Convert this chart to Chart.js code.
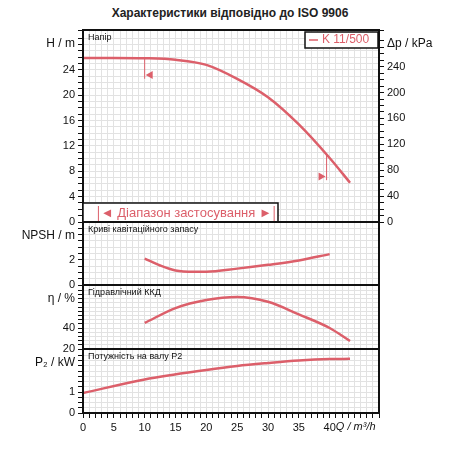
<!DOCTYPE html><html><head><meta charset="utf-8">
<script src="https://cdn.jsdelivr.net/npm/chart.js@4"></script>
<style>body{margin:0;background:#fff}#w{position:relative;width:460px;height:460px;font-family:Arial,"Liberation Sans",sans-serif}
canvas{position:absolute;left:0;top:0}#t{position:absolute;top:6px;left:0;width:460px;text-align:center;font:bold 12px "Liberation Sans",Arial;color:#222}</style></head><body>
<div id="w"><div id="t">Характеристики відповідно до ISO 9906</div>
<canvas id="c1" width="460" height="460"></canvas><canvas id="c2" width="460" height="460"></canvas>
<canvas id="c3" width="460" height="460"></canvas><canvas id="c4" width="460" height="460"></canvas></div>
<script>
const qHead=[0,5,10,15,20,25,30,35,40,43.3];
const head=[25.9,25.9,25.85,25.6,24.8,22.6,19.7,15.4,10.1,6.2];
const qNpsh=[10,12.5,15,18,20,25,30,35,40];
const npsh=[2.1,1.55,1.15,1.05,1.05,1.3,1.6,1.95,2.45];
const qEta=[10,15,20,25,30,35,40,43.3];
const eta=[44.8,59,66.7,69.5,65,53,40,27.6];
const qP2=[0,10,20,25,30,35,40,43.3];
const p2=[0.95,1.6,2.05,2.24,2.38,2.5,2.57,2.58];
const xTicks=[0,5,10,15,20,25,30,35,40];
const hTicks=[0,4,8,12,16,20,24], npshTicks=[0,2], etaTicks=[20,40], p2Ticks=[0,1], dpTicks=[0,40,80,120,160,200,240];
const RED='#dc5f6a';
const L=83,R=379,XMAX=48;
function pts(x,y){return x.map((v,i)=>({x:v,y:y[i]}));}
function has(list,v){return list.some(t=>Math.abs(t-v)<1e-6);}
function make(id,top,bot,data,ymin,ymax,step,labels,title,sub,last,extra){
  const xaxis={type:'linear',min:0,max:XMAX,display:true,
    ticks:{stepSize:1,autoSkip:false,display:last,maxRotation:0,color:'#111',font:{size:11},callback:v=>xTicks.includes(v)?String(v):''},
    grid:{color:'#e2e2e2',lineWidth:1,drawTicks:last,tickLength:5,tickColor:'#111'},border:{display:false},
    afterFit:s=>{s.height=last?20:0}};
  const scales={x:xaxis,y:{position:'left',min:ymin,max:ymax,ticks:{stepSize:step,autoSkip:false,color:'#111',font:{size:11},
      callback:v=>(has(labels,v)?String(Math.round(v)):'')},
    grid:{color:'#e2e2e2',tickLength:5,tickColor:'#111'},border:{display:false},afterFit:s=>{s.width=L}}};
  if(extra&&extra.right){scales.y2={position:'right',min:ymin*9.79,max:ymax*9.79,ticks:{stepSize:10,autoSkip:false,color:'#111',font:{size:11},
      callback:v=>(has(dpTicks,v)?String(v):'')},grid:{drawOnChartArea:false,tickLength:5,tickColor:'#111'},border:{display:false},afterFit:s=>{s.width=460-R}};}
  const deco={id:'deco',afterDraw(c){const ctx=c.ctx,a=c.chartArea;ctx.save();
    ctx.strokeStyle='#111';ctx.lineWidth=2;ctx.strokeRect(a.left,a.top,a.right-a.left,a.bottom-a.top);
    ctx.fillStyle='#111';ctx.font='9px Arial';ctx.textBaseline='top';ctx.textAlign='left';ctx.fillText(sub,a.left+5,a.top+3);
    ctx.font='12px Arial';ctx.textAlign='right';ctx.textBaseline='middle';ctx.fillText(title,a.left-8,a.top+14);
    if(extra&&extra.draw)extra.draw(c,ctx,a);ctx.restore();}};
  new Chart(document.getElementById(id),{type:'line',data:{datasets:[{data,borderColor:RED,borderWidth:2.5,pointRadius:0,cubicInterpolationMode:'monotone',fill:false}]},
    options:{responsive:false,animation:false,events:[],layout:{padding:{top:top,bottom:460-bot-(last?20:0),left:0,right:(extra&&extra.right)?0:460-R}},
      plugins:{legend:{display:false},tooltip:{enabled:false}},scales},plugins:[deco]});
}
make('c1',30,222,pts(qHead,head),0,30.3,1,hTicks,'H / m','Напір',false,{right:true,draw(c,ctx,a){
  const x=c.scales.x,y=c.scales.y;ctx.font='12px Arial';ctx.textAlign='left';ctx.fillStyle='#111';ctx.fillText('Δp / kPa',a.right+8,a.top+14);
  ctx.strokeStyle=RED;ctx.fillStyle=RED;ctx.lineWidth=1;
  let x1=x.getPixelForValue(10),x2=x.getPixelForValue(39.5);
  ctx.beginPath();ctx.moveTo(x1,y.getPixelForValue(25.85));ctx.lineTo(x1,y.getPixelForValue(22.6));ctx.stroke();
  ctx.beginPath();ctx.moveTo(x1+1,y.getPixelForValue(23.2));ctx.lineTo(x1+8,y.getPixelForValue(23.2)-4);ctx.lineTo(x1+8,y.getPixelForValue(23.2)+4);ctx.fill();
  ctx.beginPath();ctx.moveTo(x2,y.getPixelForValue(10.7));ctx.lineTo(x2,y.getPixelForValue(6.6));ctx.stroke();
  ctx.beginPath();ctx.moveTo(x2-1,y.getPixelForValue(7.2));ctx.lineTo(x2-8,y.getPixelForValue(7.2)-4);ctx.lineTo(x2-8,y.getPixelForValue(7.2)+4);ctx.fill();
  ctx.fillStyle='#fff';ctx.fillRect(305,32,73,16);ctx.strokeStyle='#111';ctx.lineWidth=1.5;ctx.strokeRect(305,32,73,16);
  ctx.strokeStyle=RED;ctx.beginPath();ctx.moveTo(309,40);ctx.lineTo(318,40);ctx.stroke();
  ctx.fillStyle=RED;ctx.font='12px Arial';ctx.textBaseline='middle';ctx.fillText('K 11/500',322,40);
  ctx.fillStyle='#fff';ctx.fillRect(a.left,203,278-a.left,19);ctx.strokeStyle='#111';ctx.lineWidth=1.5;ctx.strokeRect(a.left,203,278-a.left,19);
  ctx.strokeStyle=RED;ctx.lineWidth=1;const r1=x.getPixelForValue(2.5),r2=x.getPixelForValue(31);
  ctx.beginPath();ctx.moveTo(r1,206);ctx.lineTo(r1,222);ctx.moveTo(r2,206);ctx.lineTo(r2,222);ctx.stroke();
  ctx.fillStyle=RED;ctx.font='13px Arial';ctx.textAlign='center';ctx.fillText('◄ Діапазон застосування ►',(r1+r2)/2,213);
}});
make('c2',222,285,pts(qNpsh,npsh),0,5,0.5,npshTicks,'NPSH / m','Криві кавітаційного запасу',false);
make('c3',285,349,pts(qEta,eta),20,81,4,etaTicks,'η / %','Гідравлічний ККД',false);
make('c4',349,413,pts(qP2,p2),0,3.05,0.25,p2Ticks,'P₂ / kW','Потужність на валу P2',true,{draw(c,ctx,a){
  ctx.font='italic 11px Arial';ctx.textAlign='left';ctx.fillStyle='#111';ctx.textBaseline='middle';ctx.fillText('Q / m³/h',c.scales.x.getPixelForValue(41),a.bottom+14);}});
</script></body></html>
